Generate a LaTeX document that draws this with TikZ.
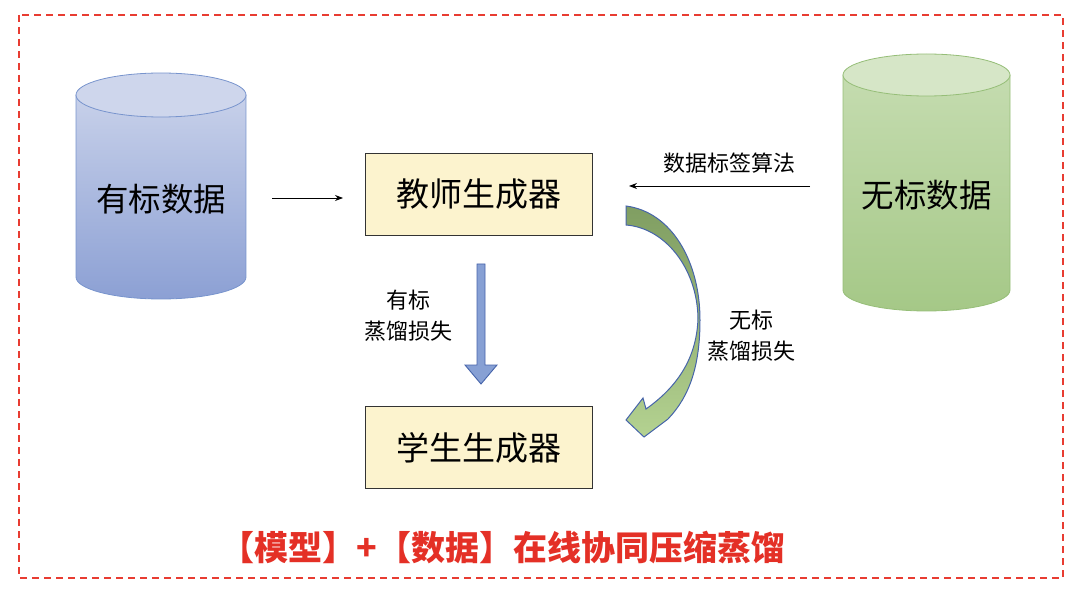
\documentclass[tikz,border=0pt]{standalone}
\usepackage{fontspec}
\setmainfont{Noto Sans CJK SC}
\newfontfamily\cjk{Noto Sans CJK SC}
\usetikzlibrary{arrows.meta,calc}
\definecolor{dashred}{RGB}{232,60,50}
\definecolor{titlered}{RGB}{228,48,38}
\definecolor{boxfill}{RGB}{252,243,206}
\definecolor{bluetop}{RGB}{206,214,236}
\definecolor{bluebot}{RGB}{140,160,212}
\definecolor{blueline}{RGB}{120,148,205}
\definecolor{greentop}{RGB}{200,222,180}
\definecolor{greenbot}{RGB}{165,200,135}
\definecolor{greenline}{RGB}{150,190,120}
\definecolor{arrowblue}{RGB}{135,160,212}
\definecolor{arrowblueline}{RGB}{70,100,170}
\definecolor{cgreendark}{RGB}{128,158,98}
\definecolor{cgreenlight}{RGB}{180,210,145}
\tikzset{
  genbox/.style={draw=black!80, line width=0.9pt, fill=boxfill, minimum width=227pt, minimum height=82pt, inner sep=0pt, font=\fontsize{33}{38}\selectfont},
  cyltext/.style={font=\fontsize{32.5}{38}\selectfont, inner sep=0pt},
  lbl/.style={font=\fontsize{22}{31}\selectfont, align=center, inner sep=0pt},
  thinarrow/.style={-{Stealth[length=8pt,width=6pt]}, line width=0.8pt, black},
}
\begin{document}
\begin{tikzpicture}[x=1pt,y=1pt]
\useasboundingbox (0,0) rectangle (1080,-596);
% border
\draw[dashred, line width=1.6pt, dash pattern=on 7pt off 5pt] (19,-15) rectangle (1063,-578);

% left cylinder
\shade[top color=bluetop!90!bluebot, bottom color=bluebot]
  (76,-95) -- (76,-277) arc[start angle=180,end angle=360,x radius=85,y radius=22] -- (246,-95) -- cycle;
\draw[blueline, line width=0.8pt]
  (76,-95) -- (76,-277) arc[start angle=180,end angle=360,x radius=85,y radius=22] -- (246,-95);
\draw[blueline, line width=0.8pt, fill=bluetop] (161,-95) ellipse[x radius=85, y radius=22];
\node[cyltext] (ldata) at (161,-199) {有标数据};

% right cylinder
\shade[top color=greentop!90!greenbot, bottom color=greenbot]
  (843,-75) -- (843,-290) arc[start angle=180,end angle=360,x radius=83.5,y radius=21] -- (1010,-75) -- cycle;
\draw[greenline, line width=0.8pt]
  (843,-75) -- (843,-290) arc[start angle=180,end angle=360,x radius=83.5,y radius=21] -- (1010,-75);
\draw[greenline, line width=0.8pt, fill=greentop!75!white] (926.5,-75) ellipse[x radius=83.5, y radius=21];
\node[cyltext] (rdata) at (926.5,-195) {无标数据};

% generator boxes
\node[genbox] (teacher) at (478.5,-194) {教师生成器};
\node[genbox] (student) at (478.5,-447.5) {学生生成器};

% thin arrows
\coordinate (la) at (272,-198);
\coordinate (lb) at (343,-198);
\draw[thinarrow] (la) -- (lb);
\coordinate (ra) at (810,-186);
\coordinate (rb) at (629,-186);
\draw[thinarrow] (ra) -- (rb);
\node[lbl] (algo) at (729,-163) {数据标签算法};

% blue block arrow
\draw[arrowblueline, fill=arrowblue, line width=0.9pt, line join=miter]
  (477,-264) -- (485,-264) -- (485,-365) -- (497,-365) -- (481,-384) -- (465,-365) -- (477,-365) -- cycle;
\node[lbl] (l1) at (408,-316) {有标\\蒸馏损失};

% curved arrow
\def\curvedarrow{(626,-206) .. controls (672,-212) and (700,-262) .. (700,-320)
  .. controls (700,-365) and (690,-396) .. (668,-419)
  -- (644,-437) -- (626,-420) -- (643,-398) -- (646,-409)
  .. controls (680,-385) and (697,-355) .. (698,-318)
  .. controls (697,-268) and (665,-228) .. (626,-225) -- cycle}
\shade[top color=cgreendark, bottom color=cgreenlight, middle color=cgreendark!55!cgreenlight] \curvedarrow;
\draw[arrowblueline, line width=1pt, line join=miter] \curvedarrow;
\node[lbl] (l2) at (751,-336) {无标\\蒸馏损失};

% title
\node[font=\fontsize{34}{38}\selectfont\bfseries, text=titlered, inner sep=0pt] (title) at (503,-548) {【模型】+【数据】在线协同压缩蒸馏};
\end{tikzpicture}
\end{document}
